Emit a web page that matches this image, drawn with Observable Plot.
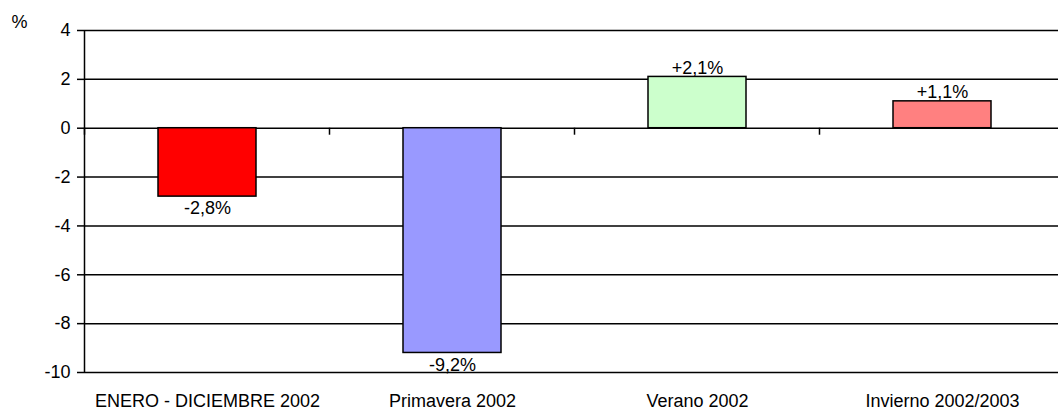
<!DOCTYPE html>
<html>
<head>
<meta charset="utf-8">
<script src="https://cdn.jsdelivr.net/npm/d3@7"></script>
<script src="https://cdn.jsdelivr.net/npm/@observablehq/plot@0.6"></script>
<style>
  html, body { margin: 0; padding: 0; background: white; }
  #chart svg { display: block; }
</style>
</head>
<body>
<div id="chart"></div>
<script>
const categories = ["ENERO - DICIEMBRE 2002", "Primavera 2002", "Verano 2002", "Invierno 2002/2003"];
const values = [-2.8, -9.2, 2.1, 1.1];
const barColors = ["#ff0000", "#9999ff", "#ccffcc", "#ff8080"];
const yTicks = [4, 2, 0, -2, -4, -6, -8, -10];
const unitLabel = "%";

const fmt = v => (v > 0 ? "+" : "") + v.toFixed(1).replace(".", ",") + "%";
const data = categories.map((c, i) => ({cat: c, value: values[i], color: barColors[i], label: fmt(values[i])}));

const font = "'Liberation Sans', Arial, sans-serif";
const fs = 18;

const chart = Plot.plot({
  width: 1058,
  height: 412,
  marginLeft: 84,
  marginRight: 0,
  marginTop: 30,
  marginBottom: 40,
  style: {fontFamily: font, fontSize: fs + "px", color: "black", background: "white", overflow: "visible"},
  x: {domain: categories, range: [84, 1065], paddingInner: 0.6, paddingOuter: 0.3},
  y: {domain: [-10, 4]},
  color: {type: "identity"},
  marks: [
    Plot.ruleY(yTicks, {stroke: "black", strokeWidth: 1.5}),
    Plot.barY(data, {x: "cat", y: "value", fill: "color", stroke: "black", strokeWidth: 1.5}),
    Plot.text(data.filter(d => d.value > 0), {x: "cat", y: "value", text: "label", lineAnchor: "bottom", dy: -3, fontSize: fs}),
    Plot.text(data.filter(d => d.value < 0), {x: "cat", y: "value", text: "label", lineAnchor: "top", dy: 5, fontSize: fs}),
    Plot.axisY({ticks: yTicks, tickSize: 7, tickPadding: 7, strokeWidth: 1.5, tickFormat: d => String(d), label: null, fontSize: fs}),
    Plot.axisX({tickSize: 0, tickPadding: 22, label: null, fontSize: fs}),
    (index, scales) => {
      const {x, y} = scales;
      const g = d3.create("svg:g").attr("stroke", "black").attr("stroke-width", 1.5);
      const step = x(categories[1]) - x(categories[0]);
      const bw = typeof x.bandwidth === "function" ? x.bandwidth() : 0;
      const bounds = categories.map(c => x(c) + bw / 2 - step / 2);
      bounds.push(x(categories[categories.length - 1]) + bw / 2 + step / 2);
      const y0 = y(0);
      bounds.forEach(b => {
        g.append("line").attr("x1", b).attr("x2", b).attr("y1", y0).attr("y2", y0 + 7);
      });
      g.append("line").attr("x1", bounds[0]).attr("x2", bounds[0])
        .attr("y1", y(yTicks[0])).attr("y2", y(yTicks[yTicks.length - 1]));
      return g.node();
    },
    Plot.text([unitLabel], {frameAnchor: "top-left", text: d => d, textAnchor: "middle", lineAnchor: "middle", dx: -65, dy: -8, fontSize: fs})
  ]
});
document.getElementById("chart").append(chart);
</script>
</body>
</html>
